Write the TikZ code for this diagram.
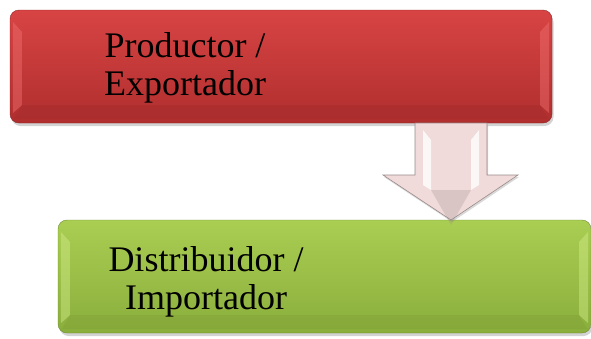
\documentclass[tikz,border=0pt]{standalone}
\usepackage{fontspec}
\setmainfont{Liberation Serif}
\usetikzlibrary{shadows}
\definecolor{redtop}{HTML}{D84444}
\definecolor{redbot}{HTML}{B02E2E}
\definecolor{redlight}{HTML}{F07070}
\definecolor{greentop}{HTML}{AACE52}
\definecolor{greenbot}{HTML}{8AAE3C}
\definecolor{greenlight}{HTML}{D2EC8A}
\definecolor{arrowfill}{HTML}{F0DADA}
\definecolor{arrowedge}{HTML}{9A8A8A}
\tikzset{
  box/.style={rounded corners=9pt, minimum height=113pt, inner sep=0pt,
    drop shadow={opacity=0.35, shadow xshift=1.5pt, shadow yshift=-3pt}},
  redbox/.style={box, top color=redtop, bottom color=redbot, draw=redbot!80!black, line width=0.4pt},
  greenbox/.style={box, top color=greentop, bottom color=greenbot, draw=greenbot!80!black, line width=0.4pt},
  label/.style={font=\fontsize{36}{38}\selectfont, align=center, text=black, inner sep=0pt},
  bevel/.style={opacity=0.45},
}
\begin{document}
\begin{tikzpicture}[x=1pt,y=-1pt]
\useasboundingbox (0,0) rectangle (591,338);
% red box
\node[redbox, minimum width=542pt] (red) at (281,66.5) {};
\fill[redlight, bevel] ([xshift=3pt,yshift=-12pt]red.north west) -- ([xshift=12pt,yshift=-22pt]red.north west)
  -- ([xshift=12pt,yshift=18pt]red.south west) -- ([xshift=3pt,yshift=10pt]red.south west) -- cycle;
\fill[redlight, bevel] ([xshift=-3pt,yshift=-12pt]red.north east) -- ([xshift=-12pt,yshift=-22pt]red.north east)
  -- ([xshift=-12pt,yshift=18pt]red.south east) -- ([xshift=-3pt,yshift=10pt]red.south east) -- cycle;
\fill[redbot!80!black, opacity=0.18] ([xshift=12pt,yshift=18pt]red.south west) -- ([xshift=-12pt,yshift=18pt]red.south east)
  -- ([xshift=-4pt,yshift=4pt]red.south east) -- ([xshift=4pt,yshift=4pt]red.south west) -- cycle;
\node[label] (redtext) at (185,68) {Productor /\\Exportador};
% green box
\node[greenbox, minimum width=533pt] (green) at (324.5,276.5) {};
\fill[greenlight, bevel] ([xshift=3pt,yshift=-12pt]green.north west) -- ([xshift=12pt,yshift=-22pt]green.north west)
  -- ([xshift=12pt,yshift=18pt]green.south west) -- ([xshift=3pt,yshift=10pt]green.south west) -- cycle;
\fill[greenlight, bevel] ([xshift=-3pt,yshift=-12pt]green.north east) -- ([xshift=-12pt,yshift=-22pt]green.north east)
  -- ([xshift=-12pt,yshift=18pt]green.south east) -- ([xshift=-3pt,yshift=10pt]green.south east) -- cycle;
\fill[greenbot!80!black, opacity=0.18] ([xshift=12pt,yshift=18pt]green.south west) -- ([xshift=-12pt,yshift=18pt]green.south east)
  -- ([xshift=-4pt,yshift=4pt]green.south east) -- ([xshift=4pt,yshift=4pt]green.south west) -- cycle;
\node[label] (greentext) at (206,282) {Distribuidor /\\Importador};
% arrow
\coordinate (atop) at (451,123);
\coordinate (atip) at (451,220);
\path[fill=arrowfill, draw=arrowedge, line width=0.6pt,
  drop shadow={opacity=0.3, shadow xshift=1pt, shadow yshift=-2pt}]
  ([xshift=-36pt]atop) -- ([xshift=36pt]atop) -- ([xshift=36pt]atop |- 0,175) -- ([xshift=67pt]atop |- 0,175)
  -- (atip) -- ([xshift=-68pt]atop |- 0,175) -- ([xshift=-36pt]atop |- 0,175) -- cycle;
\fill[white, opacity=0.8] ([xshift=-28pt]atop |- 0,130) -- ([xshift=-20pt]atop |- 0,140) -- ([xshift=-20pt]atop |- 0,190) -- ([xshift=-28pt]atop |- 0,185) -- cycle;
\fill[white, opacity=0.8] ([xshift=28pt]atop |- 0,130) -- ([xshift=20pt]atop |- 0,140) -- ([xshift=20pt]atop |- 0,190) -- ([xshift=28pt]atop |- 0,185) -- cycle;
\fill[arrowedge, opacity=0.25] ([xshift=-20pt]atop |- 0,190) -- ([xshift=20pt]atop |- 0,190) -- ([yshift=-5pt]atip) -- cycle;
\end{tikzpicture}
\end{document}
